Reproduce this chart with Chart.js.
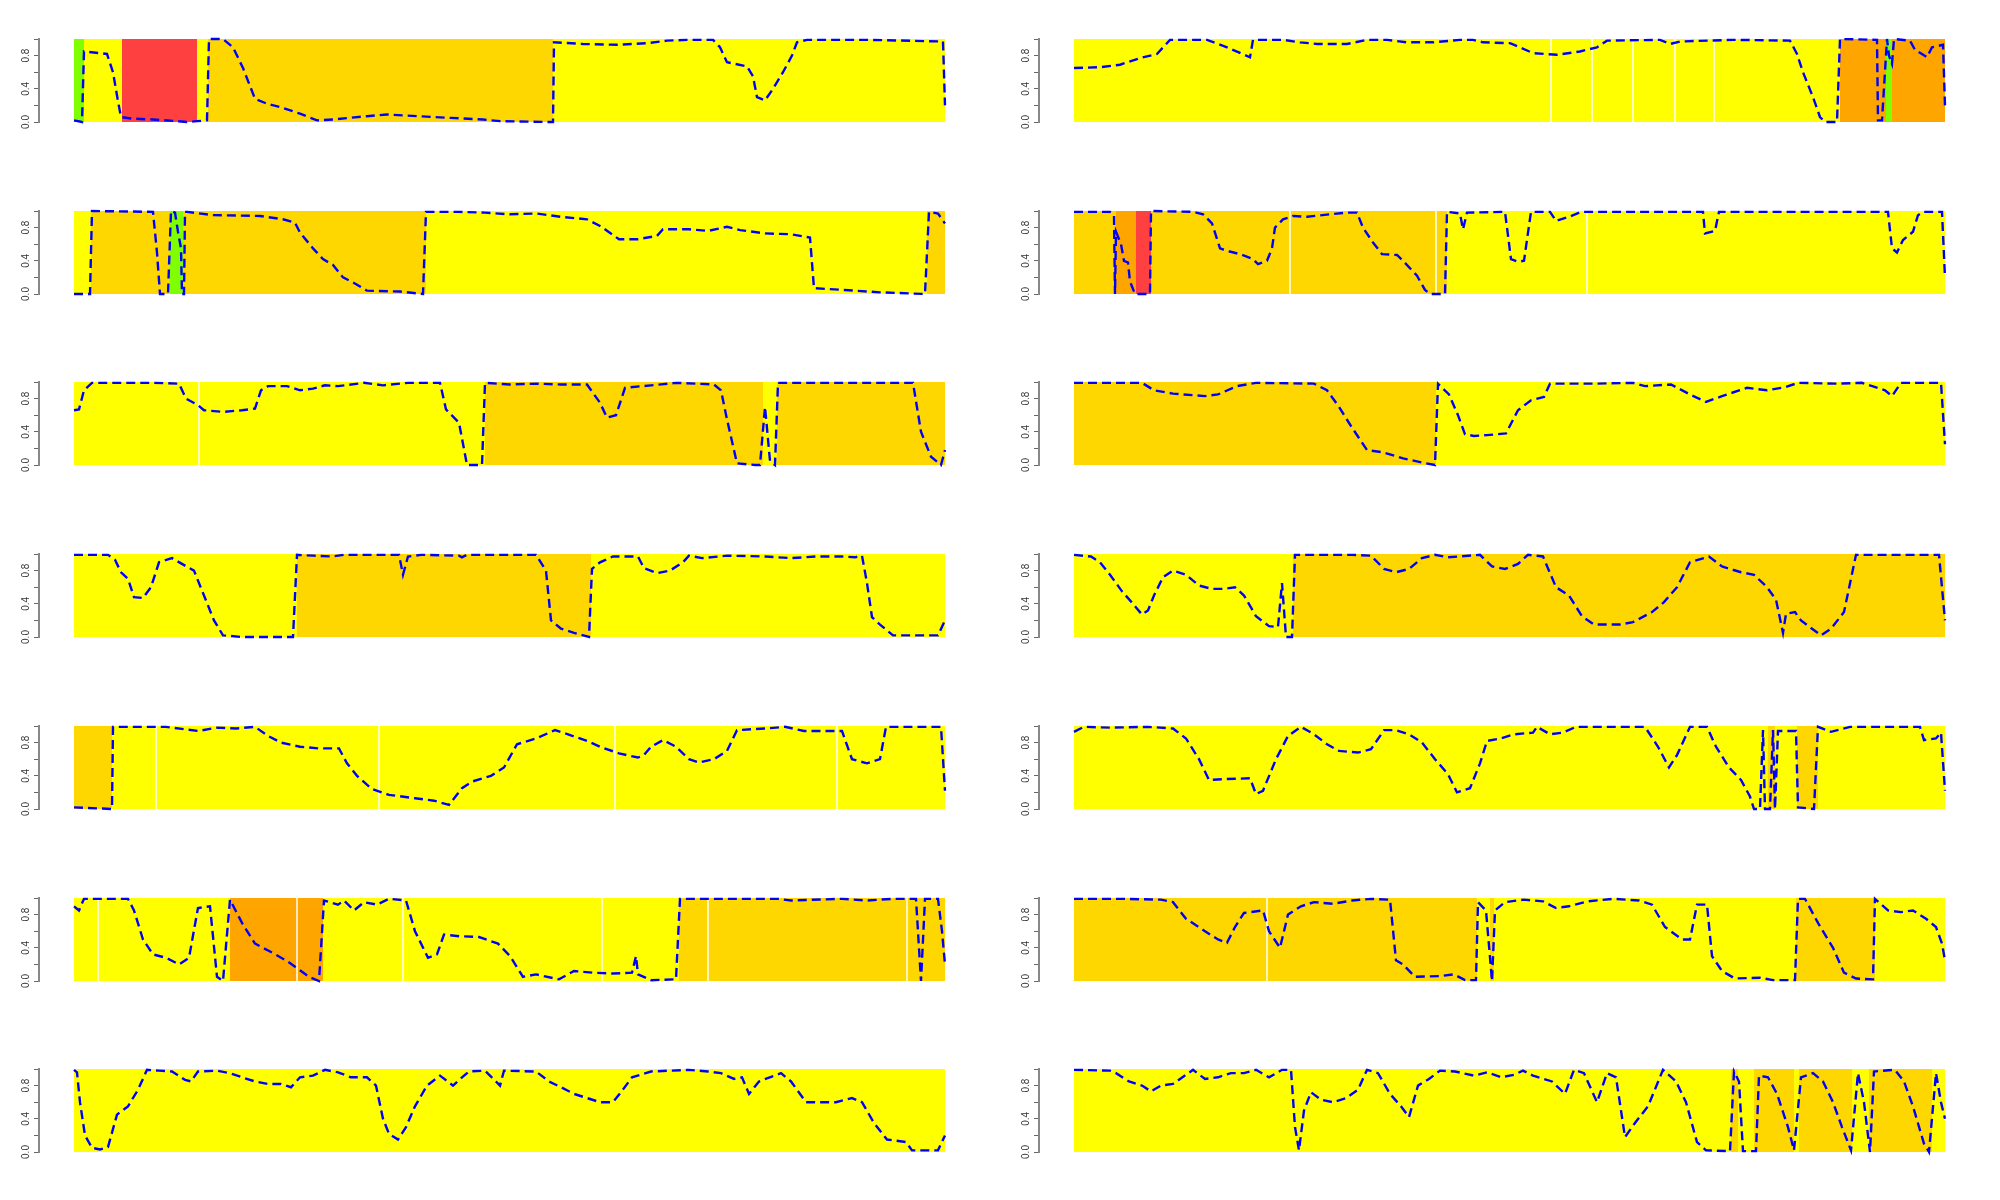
<!DOCTYPE html>
<html><head><meta charset="utf-8">
<script src="https://cdn.jsdelivr.net/npm/chart.js@4.4.0/dist/chart.umd.min.js"></script>
<style>
html,body{margin:0;padding:0;background:#fff;width:2000px;height:1200px;overflow:hidden;}
canvas{position:absolute;}
</style></head><body>
<script>
// y-axis ticks
const tickValues = [0, 0.2, 0.4, 0.6, 0.8, 1.0];
const tickLabels = ['0.0', '', '0.4', '', '0.8', ''];
// segment states: 1 yellow, 2 gold, 3 orange, 4 red, 5 green
const stateColors = {1:'#ffff00', 2:'#ffd700', 3:'#ffa500', 4:'#ff4040', 5:'#7fff00'};

// panel 1
const seg1 = [[0,10,5],[10,48,1],[48,123,4],[123,134,1],[134,479,2],[479,871,1]];
const gap1 = [];
const line1 = [[0,0.02],[8,0],[10,0.85],[33,0.82],[39,0.6],[44,0.25],[47,0.06],[59,0.04],[79,0.03],[103,0.01],[113,0],[123,0.01],[133,0.02],[135,1.0],[149,1.0],[159,0.9],[169,0.65],[181,0.28],[193,0.22],[209,0.17],[226,0.1],[243,0.02],[259,0.03],[293,0.07],[313,0.09],[343,0.07],[376,0.05],[409,0.03],[426,0.01],[476,0.0],[479,0.0],[480,0.96],[509,0.94],[543,0.93],[573,0.95],[593,0.98],[613,0.99],[639,0.99],[646,0.9],[653,0.72],[673,0.67],[679,0.55],[683,0.3],[691,0.26],[699,0.4],[709,0.6],[718,0.8],[723,0.96],[733,0.99],[793,0.99],[869,0.97],[871,0.2]];
// panel 2
const seg2 = [[0,766,1],[766,812,3],[812,818,5],[818,871,3]];
const gap2 = [477,518,559,601,640];
const line2 = [[0,0.65],[26,0.66],[46,0.69],[66,0.77],[83,0.82],[96,0.99],[133,0.99],[153,0.9],[176,0.78],[179,0.99],[209,0.99],[226,0.96],[243,0.94],[273,0.94],[293,0.99],[313,0.99],[333,0.96],[359,0.96],[386,0.99],[399,0.99],[409,0.96],[436,0.95],[459,0.83],[483,0.81],[506,0.85],[523,0.9],[533,0.98],[586,0.99],[596,0.94],[606,0.97],[659,0.99],[716,0.98],[723,0.82],[729,0.6],[739,0.3],[746,0.06],[751,0],[763,0],[766,1.0],[803,0.99],[804,0.02],[808,0.02],[813,1.0],[815,0.8],[818,0.7],[820,1.0],[836,0.98],[841,0.87],[853,0.78],[858,0.9],[869,0.93],[871,0.2]];
// panel 3
const seg3 = [[0,17,1],[17,96,2],[96,109,5],[109,352,2],[352,853,1],[853,871,2]];
const gap3 = [];
const line3 = [[0,0],[16,0],[18,1.0],[79,0.99],[83,0.5],[86,0],[94,0],[97,1.0],[101,0.98],[104,0.75],[107,0.55],[108,0],[110,0],[111,0.99],[113,0.99],[139,0.95],[186,0.94],[209,0.9],[221,0.86],[226,0.74],[239,0.55],[249,0.42],[259,0.35],[269,0.2],[279,0.14],[293,0.04],[326,0.03],[349,0],[352,0.99],[385,0.99],[411,0.98],[436,0.96],[462,0.97],[487,0.93],[513,0.9],[526,0.82],[545,0.66],[564,0.66],[583,0.7],[589,0.78],[615,0.78],[634,0.76],[653,0.81],[666,0.77],[691,0.73],[717,0.72],[736,0.68],[740,0.07],[768,0.05],[806,0.02],[851,0],[855,0.99],[864,0.97],[871,0.85]];
// panel 4
const seg4 = [[0,42,2],[42,62,3],[62,77,4],[77,373,2],[373,871,1]];
const gap4 = [216,362,513];
const line4 = [[0,0.99],[36,0.99],[40,0.95],[41,0],[42,0.75],[47,0.6],[50,0.4],[54,0.38],[56,0.15],[61,0],[76,0],[77,1.0],[119,0.99],[129,0.96],[138,0.85],[146,0.55],[153,0.52],[166,0.48],[179,0.42],[184,0.36],[193,0.4],[198,0.55],[201,0.8],[209,0.9],[219,0.94],[233,0.93],[256,0.96],[273,0.98],[283,0.98],[289,0.8],[299,0.62],[308,0.48],[323,0.47],[329,0.4],[343,0.22],[351,0.05],[356,0],[371,0],[373,0.99],[386,0.97],[389,0.78],[393,0.98],[431,0.99],[437,0.42],[444,0.39],[450,0.4],[457,0.99],[476,0.99],[482,0.88],[495,0.93],[507,0.99],[629,0.99],[631,0.73],[641,0.76],[645,0.99],[814,0.99],[818,0.55],[823,0.5],[829,0.65],[839,0.75],[844,0.95],[849,0.99],[868,0.99],[871,0.2]];
// panel 5
const seg5 = [[0,411,1],[411,689,2],[689,703,1],[703,871,2]];
const gap5 = [125];
const line5 = [[0,0.66],[5,0.67],[10,0.9],[18,0.99],[79,0.99],[105,0.98],[112,0.8],[124,0.72],[130,0.66],[149,0.64],[168,0.66],[181,0.68],[187,0.9],[194,0.95],[213,0.95],[226,0.9],[239,0.92],[251,0.96],[264,0.95],[290,0.99],[309,0.96],[334,0.99],[366,0.99],[372,0.67],[385,0.51],[393,0],[408,0],[411,0.99],[436,0.97],[462,0.98],[487,0.97],[513,0.97],[526,0.75],[533,0.57],[542,0.6],[551,0.93],[577,0.96],[602,0.99],[640,0.97],[647,0.9],[653,0.55],[663,0.02],[681,0],[686,0],[691,0.7],[696,0.05],[701,0],[704,0.99],[742,0.99],[839,0.99],[847,0.4],[857,0.1],[867,0],[871,0.18]];
// panel 6
const seg6 = [[0,362,2],[362,871,1]];
const gap6 = [];
const line6 = [[0,0.99],[68,0.99],[80,0.9],[99,0.86],[131,0.83],[144,0.85],[163,0.95],[182,0.99],[240,0.98],[253,0.9],[265,0.7],[278,0.45],[293,0.18],[310,0.15],[329,0.08],[348,0.03],[361,0],[364,0.98],[375,0.85],[384,0.6],[391,0.37],[400,0.35],[413,0.36],[432,0.38],[444,0.66],[457,0.78],[470,0.82],[476,0.98],[520,0.98],[559,0.99],[571,0.95],[597,0.97],[616,0.85],[632,0.76],[648,0.83],[673,0.93],[693,0.9],[712,0.94],[724,0.99],[763,0.98],[788,0.99],[811,0.9],[818,0.83],[827,0.99],[867,0.99],[871,0.25]];
// panel 7
const seg7 = [[0,223,1],[223,517,2],[517,871,1]];
const gap7 = [];
const line7 = [[0,0.99],[34,0.99],[41,0.93],[47,0.78],[54,0.7],[60,0.48],[69,0.47],[77,0.6],[85,0.9],[98,0.95],[111,0.86],[120,0.8],[130,0.5],[140,0.2],[149,0.02],[168,0],[219,0],[223,0.99],[239,0.98],[258,0.97],[270,0.99],[325,0.99],[329,0.75],[334,0.97],[347,0.99],[385,0.98],[388,0.96],[393,0.99],[462,0.99],[472,0.8],[477,0.2],[487,0.1],[500,0.05],[515,0],[518,0.82],[526,0.9],[539,0.97],[564,0.97],[570,0.83],[583,0.77],[596,0.8],[609,0.9],[615,0.98],[628,0.95],[653,0.98],[691,0.97],[717,0.95],[742,0.97],[768,0.97],[781,0.96],[788,0.98],[793,0.65],[798,0.24],[806,0.15],[819,0.02],[844,0.02],[864,0.02],[871,0.2]];
// panel 8
const seg8 = [[0,219,1],[219,871,2]];
const gap8 = [];
const line8 = [[0,0.99],[17,0.97],[26,0.9],[36,0.75],[48,0.55],[59,0.4],[68,0.27],[74,0.32],[80,0.5],[89,0.72],[99,0.8],[112,0.75],[125,0.62],[138,0.58],[150,0.58],[161,0.6],[170,0.5],[182,0.25],[195,0.13],[204,0.12],[208,0.65],[212,0],[218,0],[221,0.99],[278,0.99],[297,0.98],[310,0.82],[322,0.78],[335,0.82],[348,0.95],[361,0.99],[374,0.96],[406,0.99],[418,0.85],[431,0.82],[444,0.88],[454,0.99],[469,0.97],[482,0.6],[495,0.5],[508,0.25],[520,0.15],[546,0.15],[559,0.18],[578,0.3],[590,0.42],[603,0.6],[616,0.9],[635,0.97],[648,0.85],[667,0.78],[680,0.75],[693,0.6],[702,0.45],[709,0.05],[712,0.28],[721,0.3],[727,0.2],[738,0.1],[747,0.02],[757,0.1],[770,0.3],[782,0.99],[865,0.99],[871,0.2]];
// panel 9
const seg9 = [[0,38,2],[38,871,1]];
const gap9 = [82,305,541,763];
const line9 = [[0,0.02],[38,0],[39,0.99],[92,0.99],[111,0.96],[124,0.94],[143,0.98],[162,0.97],[181,0.99],[194,0.88],[207,0.8],[226,0.75],[245,0.73],[265,0.73],[273,0.55],[283,0.4],[298,0.24],[315,0.17],[341,0.13],[360,0.1],[375,0.05],[388,0.25],[398,0.33],[417,0.4],[430,0.5],[443,0.78],[462,0.85],[481,0.95],[494,0.9],[513,0.82],[526,0.75],[545,0.67],[564,0.62],[570,0.65],[577,0.75],[589,0.83],[602,0.75],[615,0.6],[625,0.56],[640,0.6],[653,0.7],[663,0.95],[691,0.97],[711,0.99],[730,0.94],[768,0.94],[778,0.6],[793,0.55],[806,0.6],[812,0.99],[867,0.99],[871,0.22]];
// panel 10
const seg10 = [[0,694,1],[694,701,2],[701,723,1],[723,744,2],[744,871,1]];
const gap10 = [];
const line10 = [[0,0.93],[10,0.99],[36,0.98],[74,0.99],[99,0.97],[112,0.85],[125,0.6],[135,0.35],[150,0.36],[176,0.37],[182,0.18],[189,0.22],[202,0.6],[214,0.88],[227,0.99],[240,0.9],[253,0.78],[265,0.7],[284,0.68],[297,0.72],[310,0.95],[322,0.95],[335,0.9],[348,0.8],[361,0.6],[374,0.42],[383,0.2],[396,0.25],[406,0.55],[413,0.82],[427,0.85],[440,0.9],[459,0.92],[463,0.99],[476,0.9],[489,0.92],[502,0.99],[571,0.99],[584,0.75],[595,0.5],[603,0.65],[616,0.99],[633,0.99],[642,0.75],[655,0.5],[667,0.35],[676,0.15],[680,0],[686,0],[689,0.95],[691,0],[696,0],[699,0.95],[701,0],[704,0.94],[722,0.94],[724,0.02],[740,0],[744,0.99],[757,0.93],[776,0.99],[846,0.99],[850,0.83],[862,0.85],[867,0.92],[871,0.22]];
// panel 11
const seg11 = [[0,156,1],[156,249,3],[249,605,1],[605,871,2]];
const gap11 = [24,223,329,528,634,833];
const line11 = [[0,0.9],[5,0.85],[10,0.99],[54,0.99],[60,0.85],[69,0.5],[79,0.32],[92,0.28],[105,0.2],[115,0.28],[124,0.88],[136,0.9],[143,0.05],[149,0],[156,0.98],[168,0.7],[181,0.45],[200,0.33],[213,0.24],[226,0.13],[235,0.05],[245,0],[250,0.97],[264,0.92],[270,0.97],[280,0.85],[290,0.95],[303,0.92],[315,0.99],[332,0.97],[341,0.6],[354,0.28],[363,0.32],[370,0.56],[385,0.54],[405,0.53],[424,0.45],[436,0.3],[449,0.05],[462,0.08],[485,0.02],[500,0.12],[519,0.1],[539,0.09],[558,0.1],[562,0.3],[564,0.08],[577,0.01],[602,0.02],[606,0.99],[704,0.99],[717,0.97],[768,0.99],[793,0.97],[819,0.99],[842,0.99],[847,0],[851,0.99],[864,0.99],[868,0.6],[871,0.2]];
// panel 12
const seg12 = [[0,403,2],[403,416,1],[416,420,2],[420,722,1],[722,801,2],[801,871,1]];
const gap12 = [193];
const line12 = [[0,0.99],[48,0.99],[87,0.98],[99,0.95],[112,0.75],[131,0.6],[144,0.5],[153,0.46],[161,0.65],[170,0.82],[189,0.85],[195,0.6],[206,0.4],[214,0.8],[227,0.9],[240,0.95],[259,0.93],[278,0.97],[297,0.99],[316,0.98],[322,0.25],[329,0.2],[341,0.05],[367,0.06],[380,0.08],[391,0.01],[402,0.01],[404,0.95],[412,0.85],[418,0],[421,0.85],[431,0.95],[450,0.98],[469,0.96],[482,0.88],[495,0.9],[514,0.96],[540,0.99],[565,0.97],[578,0.92],[591,0.65],[608,0.5],[616,0.5],[623,0.92],[633,0.92],[638,0.3],[648,0.12],[661,0.03],[686,0.04],[699,0.01],[721,0.01],[724,0.99],[731,0.99],[744,0.7],[759,0.4],[770,0.1],[782,0.03],[799,0.02],[801,0.99],[814,0.85],[827,0.83],[839,0.85],[852,0.75],[862,0.65],[868,0.45],[871,0.25]];
// panel 13
const seg13 = [[0,871,1]];
const gap13 = [];
const line13 = [[0,0.99],[3,0.96],[6,0.6],[11,0.2],[18,0.05],[26,0.03],[34,0.06],[43,0.45],[54,0.55],[64,0.75],[73,0.99],[85,0.98],[98,0.97],[111,0.87],[117,0.85],[124,0.97],[143,0.98],[156,0.95],[168,0.9],[181,0.85],[194,0.82],[207,0.82],[217,0.78],[226,0.9],[239,0.92],[251,0.99],[264,0.96],[277,0.9],[293,0.9],[302,0.8],[309,0.4],[315,0.22],[324,0.15],[332,0.3],[341,0.55],[353,0.8],[366,0.92],[379,0.8],[388,0.9],[395,0.97],[411,0.98],[426,0.8],[430,0.98],[462,0.97],[475,0.85],[487,0.78],[500,0.7],[513,0.65],[526,0.6],[539,0.6],[547,0.72],[558,0.9],[577,0.97],[615,0.99],[634,0.97],[647,0.95],[660,0.88],[668,0.9],[675,0.7],[685,0.85],[707,0.95],[717,0.85],[732,0.6],[745,0.6],[762,0.6],[778,0.65],[788,0.6],[800,0.35],[813,0.15],[832,0.12],[838,0.02],[864,0.02],[871,0.2]];
// panel 14
const seg14 = [[0,657,1],[657,664,2],[664,680,1],[680,720,2],[720,725,1],[725,778,2],[778,795,1],[795,858,2],[858,871,1]];
const gap14 = [];
const line14 = [[0,0.99],[36,0.98],[42,0.95],[55,0.85],[68,0.8],[77,0.73],[87,0.8],[99,0.82],[112,0.93],[119,0.99],[131,0.88],[144,0.9],[157,0.95],[170,0.95],[182,0.99],[195,0.9],[208,0.99],[217,0.99],[221,0.3],[225,0.02],[230,0.5],[237,0.72],[247,0.63],[259,0.6],[272,0.65],[284,0.75],[293,0.99],[304,0.95],[316,0.7],[327,0.55],[335,0.42],[344,0.8],[355,0.88],[366,0.98],[381,0.97],[400,0.92],[413,0.96],[427,0.9],[440,0.93],[449,0.98],[459,0.92],[478,0.85],[491,0.7],[500,0.99],[510,0.95],[523,0.6],[533,0.95],[542,0.9],[551,0.18],[561,0.35],[574,0.55],[589,0.99],[602,0.85],[612,0.6],[623,0.12],[632,0.02],[656,0.01],[660,0.97],[665,0.85],[669,0.01],[682,0.01],[685,0.92],[694,0.9],[703,0.7],[714,0.3],[720,0.02],[727,0.9],[739,0.95],[749,0.85],[759,0.6],[768,0.3],[777,0.02],[784,0.95],[790,0.6],[796,0],[800,0.97],[821,0.99],[830,0.85],[839,0.55],[850,0.1],[855,0],[862,0.95],[867,0.6],[871,0.4]];

const panels = [
  [seg1,gap1,line1],[seg2,gap2,line2],[seg3,gap3,line3],[seg4,gap4,line4],
  [seg5,gap5,line5],[seg6,gap6,line6],[seg7,gap7,line7],[seg8,gap8,line8],
  [seg9,gap9,line9],[seg10,gap10,line10],[seg11,gap11,line11],[seg12,gap12,line12],
  [seg13,gap13,line13],[seg14,gap14,line14]
];

const X_MIN = -35, X_MAX = 871;

panels.forEach((p, i) => {
  const [segs, gaps, line] = p;
  const row = Math.floor(i / 2), col = i % 2;
  const top = Math.round(39 + row * 171.7);
  const cv = document.createElement('canvas');
  cv.width = 960; cv.height = 103;
  cv.style.left = (col ? 1000 : 0) + 'px';
  cv.style.top = (top - 10) + 'px';
  document.body.appendChild(cv);

  const datasets = [];
  datasets.push({
    type: 'line', order: 0,
    data: line.map(d => ({x: d[0], y: d[1]})),
    borderColor: '#0000ff', borderWidth: 2.4, borderDash: [9, 5],
    pointRadius: 0, tension: 0, fill: false, clip: 6
  });
  gaps.forEach(g => datasets.push({
    type: 'line', order: 1,
    data: [{x: g, y: 0}, {x: g, y: 1}],
    borderColor: '#ffffff', borderWidth: 1.5, pointRadius: 0, fill: false
  }));
  segs.forEach(s => datasets.push({
    type: 'line', order: 2,
    data: [{x: s[0], y: 1}, {x: s[1], y: 1}],
    borderWidth: 0, borderColor: 'rgba(0,0,0,0)', pointRadius: 0,
    fill: 'origin', backgroundColor: stateColors[s[2]]
  }));

  new Chart(cv, {
    type: 'line',
    data: { datasets },
    options: {
      responsive: false, animation: false, events: [],
      layout: { padding: { left: 0, right: 15, top: 10, bottom: 10 } },
      plugins: { legend: { display: false }, tooltip: { enabled: false } },
      scales: {
        x: { type: 'linear', min: X_MIN, max: X_MAX, display: false },
        y: {
          type: 'linear', min: 0, max: 1,
          afterBuildTicks: s => { s.ticks = tickValues.map(v => ({ value: v })); },
          afterFit: s => { s.width = 39; },
          ticks: {
            autoSkip: false, minRotation: 90, maxRotation: 90, padding: 1,
            crossAlign: 'center', color: '#333',
            font: { size: 10, family: 'Liberation Sans, Arial, sans-serif' },
            callback: (v, idx) => tickLabels[idx]
          },
          grid: { drawOnChartArea: false, drawTicks: true, tickLength: 5, color: '#666', lineWidth: 1 },
          border: { display: true, color: '#888', width: 2 }
        }
      }
    }
  });
});
</script>
</body></html>
